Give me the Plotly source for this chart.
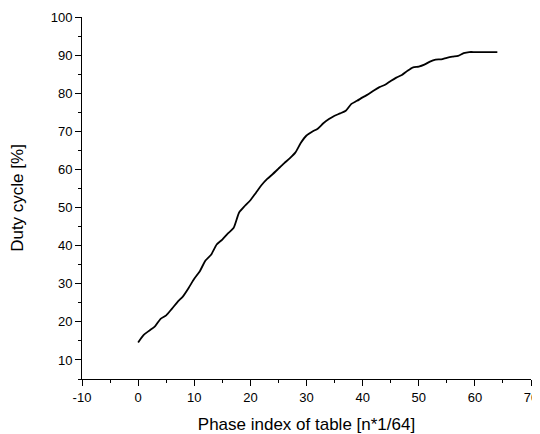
import plotly.graph_objects as go

phase_index = list(range(0, 65))
duty_cycle = [
    14.6, 16.6, 17.7, 18.8, 20.8, 21.7, 23.4, 25.2, 26.7, 28.9,
    31.3, 33.3, 36.1, 37.6, 40.3, 41.6, 43.2, 44.6, 48.7, 50.4,
    51.9, 53.9, 55.9, 57.5, 58.8, 60.2, 61.6, 62.9, 64.4, 67.0,
    68.9, 69.9, 70.7, 72.1, 73.2, 74.1, 74.7, 75.4, 77.2, 78.0,
    78.9, 79.7, 80.7, 81.6, 82.2, 83.2, 84.1, 84.8, 85.9, 86.8,
    87.0, 87.5, 88.3, 88.8, 88.9, 89.3, 89.6, 89.8, 90.5, 90.8,
    90.8, 90.8, 90.8, 90.8, 90.8,
]
x_tick_vals = [-10, 0, 10, 20, 30, 40, 50, 60, 70]
x_tick_text = ["-10", "0", "10", "20", "30", "40", "50", "60", "70"]
y_tick_vals = [10, 20, 30, 40, 50, 60, 70, 80, 90, 100]

fig = go.Figure()
fig.add_trace(go.Scatter(
    x=phase_index, y=duty_cycle, mode="lines",
    line=dict(color="black", width=1.8, shape="spline", smoothing=0.6),
    showlegend=False,
))

font_family = "Liberation Sans, Arial, sans-serif"
axis_common = dict(
    showgrid=False, zeroline=False, showline=True, linecolor="black", linewidth=1,
    ticks="outside", ticklen=6, tickwidth=1, tickcolor="black",
    tickfont=dict(family=font_family, size=13, color="black"),
    minor=dict(ticks="outside", ticklen=3, tickwidth=1, tickcolor="black", dtick=5),
    mirror=False, automargin=False, ticklabeloverflow="allow",
)

fig.update_xaxes(
    range=[-10, 70], tickvals=x_tick_vals, ticktext=x_tick_text,
    title=dict(text="Phase index of table [n*1/64]", font=dict(family=font_family, size=17, color="black"), standoff=14),
    **axis_common,
)
fig.update_yaxes(
    range=[5, 100], tickvals=y_tick_vals,
    title=dict(text="Duty cycle [%]", font=dict(family=font_family, size=17, color="black"), standoff=22),
    **axis_common,
)

# The page body has an 8px default margin; offset the plot area to compensate.
fig.update_layout(
    width=540, height=434,
    margin=dict(l=74, r=17, t=9, b=63),
    paper_bgcolor="white", plot_bgcolor="white",
    font=dict(family=font_family, color="black"),
)

fig.write_html("out.html")
